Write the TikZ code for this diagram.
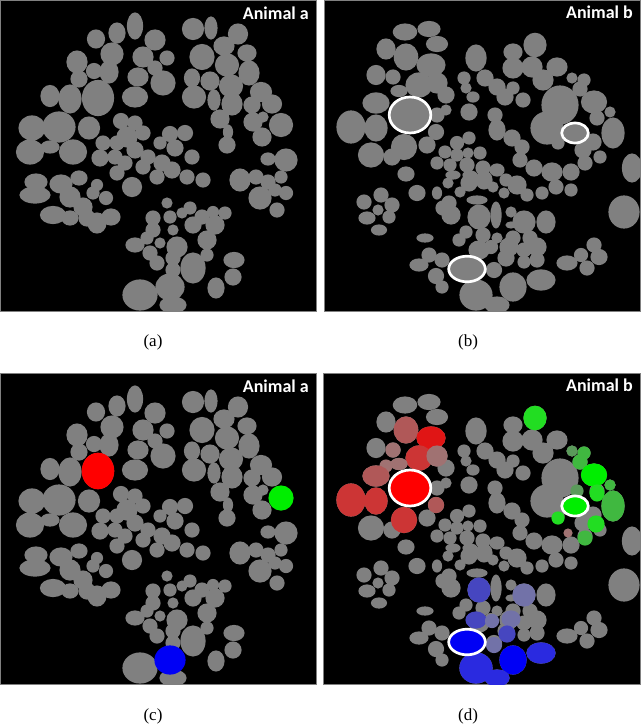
\documentclass[tikz,border=0pt]{standalone}
\usepackage{fontspec}
\setmainfont{Liberation Serif}
\newfontfamily\calib{Carlito}
\definecolor{blobgray}{HTML}{808080}
\definecolor{rA}{HTML}{FF0000}
\definecolor{rB}{HTML}{E01515}
\definecolor{rC}{HTML}{CC3535}
\definecolor{rD}{HTML}{B05858}
\definecolor{rE}{HTML}{A07272}
\definecolor{gA}{HTML}{00EE00}
\definecolor{gB}{HTML}{22DD22}
\definecolor{gC}{HTML}{40B840}
\definecolor{gD}{HTML}{5A9A5A}
\definecolor{bA}{HTML}{0000F5}
\definecolor{bB}{HTML}{2A2AE0}
\definecolor{bC}{HTML}{4646C0}
\definecolor{bD}{HTML}{7272A8}
\tikzset{
  panel/.style={fill=black,draw=blobgray,line width=0.6pt},
  blobfill/.style={fill=blobgray},
  ring/.style={draw=white,line width=2.7pt},
  animal/.style={text=white,font=\calib\bfseries\fontsize{18}{20}\selectfont,anchor=east,inner sep=0pt},
  captext/.style={font=\fontsize{17}{19}\selectfont,inner sep=0pt}
}
\def\ad{0.6pt}
\newcommand\blob[4]{\fill[blobfill] (#1,#2) ellipse [x radius={#3pt+\ad}, y radius={#4pt+\ad}];}
\newcommand\cblob[5]{\fill[#5] (#1,#2) ellipse [x radius={#3pt+\ad}, y radius={#4pt+\ad}];}
\newcommand\blobsA{%
\blob{135}{26}{7.5}{13}
\blob{117}{33}{8}{10}
\blob{96}{39}{8.5}{9}
\blob{112}{54}{11}{11}
\blob{77}{62}{10}{11}
\blob{94}{71}{7.5}{7.5}
\blob{109}{72}{9}{11}
\blob{79}{79}{8}{8}
\blob{50}{96}{9}{10.5}
\blob{70}{99}{11}{14}
\blob{98}{98}{15.5}{17.5}
\blob{89}{128}{10.5}{11}
\blob{32}{128}{13}{12}
\blob{59}{127}{16}{15}
\blob{30}{152}{13.5}{12}
\blob{73}{152}{13.5}{12}
\blob{50}{147}{9}{6}
\blob{135}{97}{12.5}{10}
\blob{138}{77}{10}{9}
\blob{143}{57}{10}{10}
\blob{155}{40}{10}{10}
\blob{167}{58}{7}{7}
\blob{163}{83}{12}{12}
\blob{155}{68}{7}{7}
\blob{121}{121}{7.5}{7.5}
\blob{135}{123}{7}{7}
\blob{193}{29}{10.5}{10.5}
\blob{211}{28}{6}{11}
\blob{238}{34}{9.5}{10}
\blob{224}{46}{10}{9}
\blob{202}{57}{12}{12.5}
\blob{247}{53}{9}{8}
\blob{227}{65}{11.5}{11}
\blob{249}{73}{10}{12}
\blob{192}{78}{7.5}{9}
\blob{210}{81}{9}{9}
\blob{231}{86}{11.5}{11}
\blob{194}{97}{11.5}{11}
\blob{214}{100}{6}{10}
\blob{232}{104}{10}{11}
\blob{261}{92}{10.5}{9.5}
\blob{252}{105}{8}{8}
\blob{272}{104}{9.5}{9}
\blob{220}{119}{9}{9}
\blob{228}{132}{4.5}{7}
\blob{227}{145}{8}{8}
\blob{253}{122}{9}{9}
\blob{263}{117}{5}{5}
\blob{281}{125}{11.5}{11.5}
\blob{262}{137}{9}{9}
\blob{286}{160}{11}{11}
\blob{268}{159}{7}{6}
\blob{240}{180}{10}{11}
\blob{256}{177}{7}{7}
\blob{268}{182}{7}{7}
\blob{281}{177}{6}{6}
\blob{286}{193}{6.5}{6.5}
\blob{260}{198}{11}{11}
\blob{277}{210}{7}{7}
\blob{275}{190}{6}{6}
\blob{103}{143}{7}{7}
\blob{117}{143}{7}{7}
\blob{127}{137}{10}{10}
\blob{143}{133}{7}{7}
\blob{135}{150}{8}{8}
\blob{100}{158}{8}{8}
\blob{115}{157}{7}{7}
\blob{148}{157}{7}{7}
\blob{160}{143}{6}{6}
\blob{170}{134}{7.5}{7.5}
\blob{185}{133}{7.5}{7.5}
\blob{175}{148}{8}{8}
\blob{162}{163}{8}{8}
\blob{143}{167}{7}{7}
\blob{117}{173}{7}{7}
\blob{132}{187}{9.5}{9.5}
\blob{157}{177}{7}{7}
\blob{172}{170}{8}{8}
\blob{192}{157}{7}{7}
\blob{187}{177}{7}{7}
\blob{203}{180}{7}{7}
\blob{125}{163}{7}{7}
\blob{36}{182}{11}{8}
\blob{35}{195}{15}{8}
\blob{53}{215}{12.5}{8.5}
\blob{61}{184}{11}{9}
\blob{79}{178}{8}{7}
\blob{70}{197}{10}{10}
\blob{83}{207}{9}{9}
\blob{97}{185}{5.5}{5.5}
\blob{93}{193}{6}{6}
\blob{106}{198}{6.5}{6.5}
\blob{70}{218}{8}{7}
\blob{87}{218}{8}{8}
\blob{97}{223}{9}{10}
\blob{111}{217}{9}{8}
\blob{167}{203}{5}{5}
\blob{182}{213}{5}{5}
\blob{190}{208}{6}{6}
\blob{202}{217}{7}{7}
\blob{213}{212}{5.5}{5.5}
\blob{225}{213}{6}{6}
\blob{153}{218}{7}{7}
\blob{170}{217}{6}{6}
\blob{153}{230}{7}{7}
\blob{173}{230}{5}{5}
\blob{193}{225}{8}{8}
\blob{215}{225}{9}{9}
\blob{135}{245}{9}{7}
\blob{147}{238}{6}{6}
\blob{160}{243}{5}{5}
\blob{177}{247}{10}{10}
\blob{207}{240}{9}{9}
\blob{150}{253}{7}{7}
\blob{173}{258}{7}{7}
\blob{207}{255}{6}{6}
\blob{157}{263}{7}{7}
\blob{193}{268}{12}{15}
\blob{173}{270}{7}{7}
\blob{234}{260}{10}{7.5}
\blob{233}{277}{8}{8}
\blob{216}{288}{8}{10}
\blob{140}{295}{17}{15}
\blob{170}{287}{14}{13}
\blob{173}{305}{13}{8}
}
\newcommand\blobsB{%
\blob{405}{32}{11.7}{8}
\blob{429}{29}{11}{7.5}
\blob{437}{44}{10.5}{7.5}
\blob{386}{49}{9}{10}
\blob{406}{57}{11.7}{13}
\blob{431}{65}{14}{11}
\blob{376}{75}{9}{9.5}
\blob{393}{77}{7}{7}
\blob{419}{85}{13}{12}
\blob{437}{83}{10}{10}
\blob{399}{91}{8}{5.5}
\blob{376}{103}{13}{10}
\blob{446}{95}{8}{8}
\blob{410}{115}{20.8}{18}
\blob{437}{115}{7}{7}
\blob{446}{110}{5}{5}
\blob{351}{127}{14}{16}
\blob{376}{128}{11}{13}
\blob{436}{132}{7.5}{7.5}
\blob{404}{147}{12.5}{12.5}
\blob{371}{155}{12.5}{12}
\blob{427}{145}{8}{8}
\blob{392}{157}{8}{8}
\blob{406}{174}{8}{7}
\blob{476}{58}{10}{13}
\blob{464}{78}{6}{6}
\blob{466}{88}{5}{5}
\blob{485}{78}{8}{8}
\blob{497}{87}{8}{8}
\blob{505}{97}{8}{8}
\blob{473}{97}{6}{5}
\blob{469}{112}{8}{8}
\blob{495}{115}{7}{7}
\blob{497}{130}{8}{10}
\blob{512}{138}{8}{8}
\blob{522}{147}{7}{7}
\blob{457}{143}{6.5}{6.5}
\blob{469}{138}{6}{6}
\blob{535}{45}{11}{11.7}
\blob{513}{52}{9}{8}
\blob{513}{68}{10}{10}
\blob{532}{67}{10}{10}
\blob{557}{67}{10}{9}
\blob{543}{80}{10}{10}
\blob{523}{100}{7}{7}
\blob{513}{88}{6}{6}
\blob{572}{78}{5}{5}
\blob{584}{80}{6}{6}
\blob{580}{89}{7}{7}
\blob{560}{105}{18}{19}
\blob{594}{102}{12.5}{11}
\blob{610}{112}{5}{5}
\blob{547}{128}{16}{16}
\blob{575}{133}{13.3}{10}
\blob{613}{133}{11}{15}
\blob{597}{118}{7}{7}
\blob{593}{142}{8}{8}
\blob{558}{143}{6}{6}
\blob{583}{150}{8}{8}
\blob{585}{163}{7}{7}
\blob{600}{157}{6}{6}
\blob{632}{168}{9.5}{14}
\blob{624}{212}{15}{16}
\blob{520}{160}{7}{7}
\blob{534}{168}{8}{8}
\blob{552}{172}{10}{9}
\blob{571}{172}{8}{8}
\blob{571}{190}{6}{6}
\blob{497}{170}{7}{6}
\blob{506}{180}{6}{6}
\blob{517}{185}{9}{9}
\blob{527}{195}{6}{6}
\blob{542}{193}{6}{6}
\blob{556}{187}{7}{7}
\blob{504}{193}{5}{5}
\blob{493}{187}{5}{5}
\blob{445}{152}{6}{6}
\blob{457}{155}{6}{6}
\blob{468}{153}{5}{5}
\blob{480}{153}{6}{6}
\blob{437}{163}{6}{6}
\blob{450}{165}{6}{6}
\blob{467}{165}{7}{7}
\blob{483}{168}{7}{7}
\blob{469}{183}{8}{8}
\blob{484}{180}{8}{9}
\blob{453}{175}{7}{4}
\blob{470}{175}{7}{4}
\blob{448}{183}{5}{5}
\blob{460}{192}{5}{5}
\blob{417}{193}{8}{7.5}
\blob{437}{193}{4.5}{6}
\blob{449}{203}{7}{7}
\blob{477}{200}{10}{4}
\blob{443}{208}{7}{7}
\blob{451}{215}{9}{9}
\blob{479}{217}{11}{12}
\blob{496}{215}{5}{13}
\blob{511}{212}{5}{5}
\blob{524}{222}{11}{11}
\blob{546}{222}{9}{11}
\blob{511}{225}{5}{3}
\blob{466}{232}{6}{6}
\blob{459}{240}{6}{6}
\blob{483}{235}{7}{7}
\blob{497}{238}{5}{5}
\blob{513}{238}{7}{7}
\blob{530}{238}{7}{7}
\blob{425}{238}{8}{4}
\blob{429}{255}{7}{7}
\blob{419}{265}{9}{6}
\blob{442}{260}{7}{7}
\blob{436}{276}{7.5}{7.5}
\blob{442}{287}{6}{6}
\blob{467}{269}{18.3}{12.8}
\blob{476}{295}{16}{15}
\blob{513}{287}{13}{14}
\blob{541}{280}{14}{10}
\blob{497}{305}{12}{8}
\blob{494}{270}{7.5}{7.5}
\blob{479}{250}{10}{9}
\blob{491}{247}{6.5}{6.5}
\blob{509}{247}{9}{9}
\blob{506}{258}{8}{8}
\blob{524}{250}{7}{7}
\blob{537}{247}{9}{9}
\blob{537}{260}{7}{7}
\blob{524}{262}{6}{6}
\blob{567}{263}{10}{7}
\blob{581}{255}{6.5}{6.5}
\blob{594}{245}{7}{7}
\blob{599}{257}{8}{7.5}
\blob{587}{268}{7}{7}
\blob{364}{202}{7}{7}
\blob{381}{195}{7}{7}
\blob{392}{205}{7}{7}
\blob{367}{218}{8}{6}
\blob{389}{217}{6}{6}
\blob{379}{230}{7.5}{5}
\blob{378}{210}{5}{5}
}
\newcommand\ringsB{%
\draw[ring] (410,115) ellipse [x radius=20.8pt, y radius=18pt];
\draw[ring] (575,133) ellipse [x radius=13.3pt, y radius=10pt];
\draw[ring] (467,269) ellipse [x radius=18.3pt, y radius=12.8pt];
}
\begin{document}
\begin{tikzpicture}[x=1pt,y=-1pt]
\useasboundingbox[fill=white] (0,0) rectangle (640,725);
% panel a
\draw[panel] (0,0) rectangle (316,311);
\begin{scope}
\clip (0,0) rectangle (316,311);
\blobsA
\end{scope}
\node[animal] (ta) at (309,13) {Animal a};
% panel b
\draw[panel] (324,0) rectangle (640,311);
\begin{scope}
\clip (324,0) rectangle (640,311);
\blobsB
\ringsB
\end{scope}
\node[animal] (tb) at (633,12) {Animal b};
% panel c
\draw[panel] (0,373) rectangle (316,684);
\begin{scope}
\clip (0,373) rectangle (316,684);
\begin{scope}[yshift=-373pt]
\blobsA
\cblob{98}{98}{15.7}{17.7}{rA}
\cblob{281}{125}{12}{12}{gA}
\cblob{170}{287}{15}{14}{bA}
\end{scope}
\end{scope}
\node[animal] (tc) at (309,386) {Animal a};
% panel d
\draw[panel] (323,373) rectangle (640,684);
\begin{scope}
\clip (323,373) rectangle (640,684);
\begin{scope}[yshift=-373pt]
\blobsB
% red group
\cblob{406}{57}{11.7}{13}{rD}
\cblob{431}{65}{14}{11}{rB}
\cblob{419}{85}{13}{12}{rC}
\cblob{437}{83}{10}{10}{rE}
\cblob{399}{91}{8}{5.5}{rE}
\cblob{393}{77}{7}{7}{rE}
\cblob{386}{93}{6}{6}{rE}
\cblob{376}{103}{13}{10}{rD}
\cblob{351}{127}{14}{16}{rC}
\cblob{376}{128}{11}{13}{rC}
\cblob{404}{147}{12.5}{12.5}{rC}
\cblob{436}{132}{7.5}{7.5}{rD}
\cblob{410}{115}{20.8}{18}{rA}
% green group
\cblob{535}{45}{11}{11.7}{gB}
\cblob{572}{78}{5}{5}{gD}
\cblob{584}{80}{6}{6}{gC}
\cblob{580}{89}{7}{7}{gC}
\cblob{594}{102}{12.5}{11}{gA}
\cblob{610}{112}{5}{5}{gC}
\cblob{577}{118}{6}{6}{gD}
\cblob{597}{120}{7}{8}{gB}
\cblob{613}{133}{11}{15}{gC}
\cblob{558}{145}{6}{6}{gB}
\cblob{596}{151}{8}{8}{gB}
\cblob{585}{165}{7}{7}{gC}
\cblob{568}{160}{4}{4}{rE}
\cblob{575}{133}{13.3}{10}{gA}
% blue group
\cblob{479}{217}{11}{12}{bC}
\cblob{524}{222}{11}{11}{bD}
\cblob{476}{247}{10}{8}{bC}
\cblob{492}{248}{6.5}{6.5}{bD}
\cblob{511}{246}{9}{8}{bD}
\cblob{507}{261}{8}{8}{bC}
\cblob{494}{272}{7.5}{7.5}{bD}
\cblob{476}{295}{16}{15}{bB}
\cblob{513}{287}{13}{14}{bA}
\cblob{541}{280}{14}{10}{bB}
\cblob{497}{305}{12}{8}{bB}
\cblob{467}{269}{18.3}{12.8}{bA}
\ringsB
\end{scope}
\end{scope}
\node[animal] (td) at (633,385) {Animal b};
% captions
\node[captext] (ca) at (153,342) {(a)};
\node[captext] (cb) at (468,342) {(b)};
\node[captext] (cc) at (153,716) {(c)};
\node[captext] (cd) at (468,716) {(d)};
\end{tikzpicture}
\end{document}
